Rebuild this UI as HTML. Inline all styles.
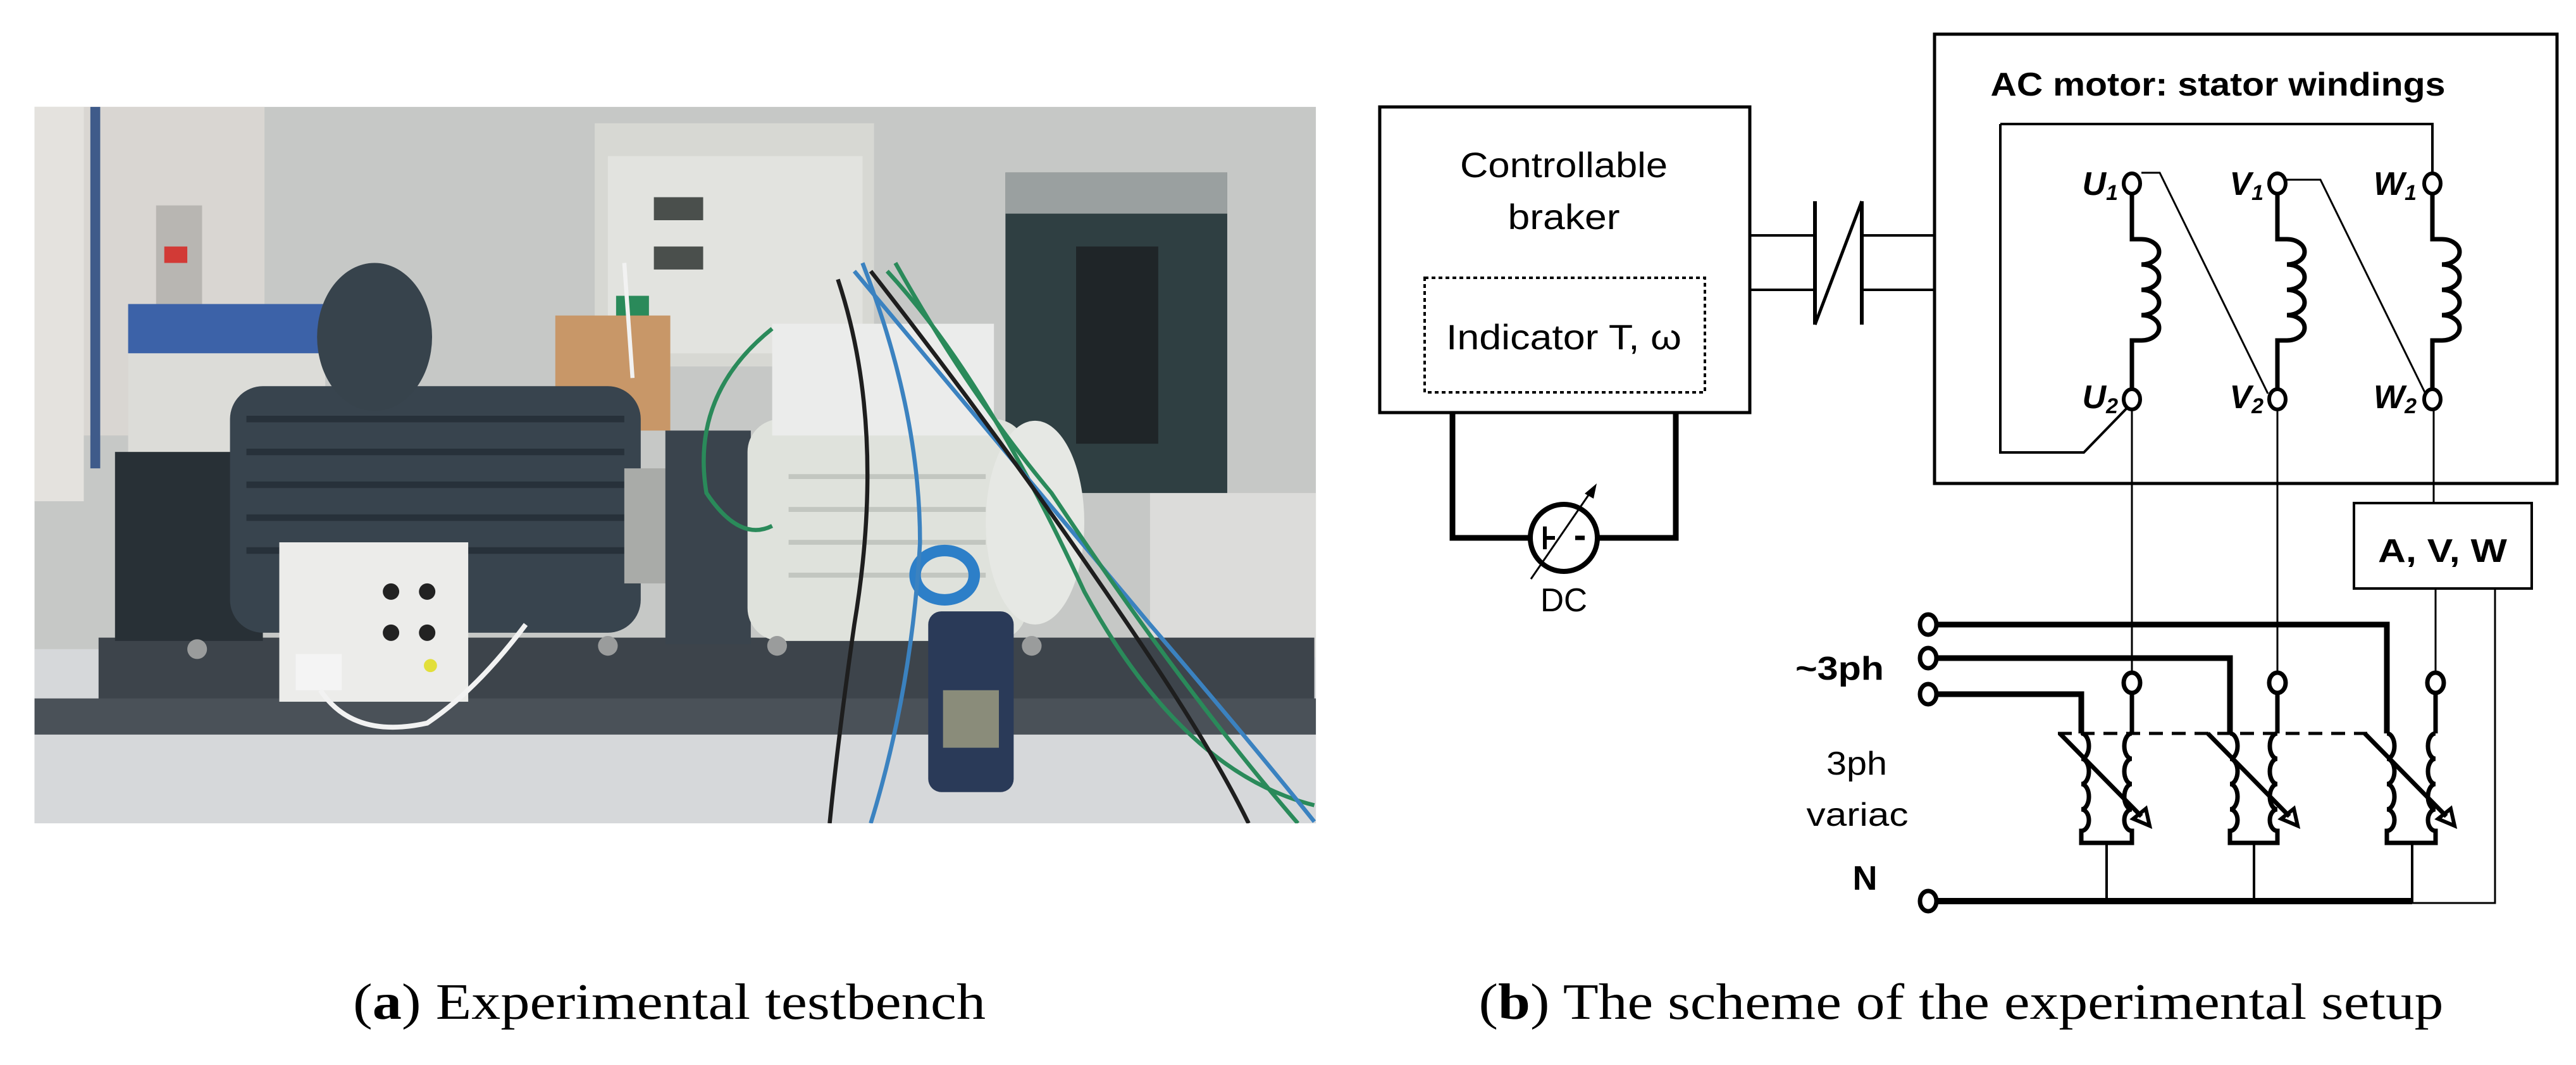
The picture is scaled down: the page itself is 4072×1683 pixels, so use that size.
<!DOCTYPE html>
<html><head><meta charset="utf-8"><style>
html,body{margin:0;padding:0;background:#fff;}
svg{display:block;}
</style></head><body>
<svg width="4072" height="1683" viewBox="0 0 4072 1683" xmlns="http://www.w3.org/2000/svg">
<rect width="4072" height="1683" fill="#fff"/>
<!-- PHOTO (display coords scaled) -->
<g transform="scale(2.597)">
 <clipPath id="pc"><rect x="21" y="65" width="780" height="436"/></clipPath>
 <g clip-path="url(#pc)">
  <rect x="21" y="65" width="780" height="436" fill="#c6c8c6"/>
  <rect x="21" y="65" width="140" height="200" fill="#d9d6d2"/>
  <rect x="21" y="65" width="30" height="240" fill="#e4e2de"/>
  <rect x="55" y="65" width="6" height="220" fill="#3f5b8a"/>
  <rect x="95" y="125" width="28" height="60" fill="#b8b6b2"/>
  <rect x="100" y="150" width="14" height="10" fill="#d23a36"/>
  <rect x="21" y="395" width="780" height="106" fill="#d6d8da"/>
  <rect x="700" y="300" width="101" height="100" fill="#dcdcda"/>
  <rect x="78" y="185" width="120" height="30" fill="#3c62a8"/>
  <rect x="78" y="215" width="120" height="80" fill="#dcdcd8"/>
  <rect x="362" y="75" width="170" height="148" fill="#d7d8d3"/>
  <rect x="370" y="95" width="155" height="120" fill="#e2e3df"/>
  <rect x="398" y="120" width="30" height="14" fill="#4a4f4c"/>
  <rect x="398" y="150" width="30" height="14" fill="#4a4f4c"/>
  <rect x="375" y="180" width="20" height="20" fill="#2a8a5a"/>
  <rect x="338" y="192" width="70" height="70" fill="#c89768"/>
  <rect x="612" y="105" width="135" height="195" fill="#2f3f42"/>
  <rect x="655" y="150" width="50" height="120" fill="#1f2528"/>
  <rect x="612" y="105" width="135" height="25" fill="#9aa0a0"/>
  <rect x="60" y="388" width="740" height="40" fill="#3d444b"/>
  <rect x="21" y="425" width="780" height="22" fill="#4a5158"/>
  <rect x="70" y="275" width="90" height="115" fill="#283036"/>
  <rect x="140" y="235" width="250" height="150" rx="20" fill="#38444e"/>
  <g stroke="#27313a" stroke-width="4">
   <line x1="150" y1="255" x2="380" y2="255"/><line x1="150" y1="275" x2="380" y2="275"/>
   <line x1="150" y1="295" x2="380" y2="295"/><line x1="150" y1="315" x2="380" y2="315"/>
   <line x1="150" y1="335" x2="380" y2="335"/>
  </g>
  <ellipse cx="228" cy="205" rx="35" ry="45" fill="#37434c"/>
  <rect x="380" y="285" width="30" height="70" fill="#a9aba8"/>
  <rect x="405" y="262" width="52" height="130" fill="#3a444d"/>
  <rect x="455" y="255" width="170" height="135" rx="20" fill="#dfe2dc"/>
  <ellipse cx="630" cy="318" rx="30" ry="62" fill="#e6e8e4"/>
  <g stroke="#c2c6c0" stroke-width="3">
   <line x1="480" y1="290" x2="600" y2="290"/><line x1="480" y1="310" x2="600" y2="310"/>
   <line x1="480" y1="330" x2="600" y2="330"/><line x1="480" y1="350" x2="600" y2="350"/>
  </g>
  <rect x="470" y="197" width="135" height="68" fill="#ebeceb"/>
  <rect x="170" y="330" width="115" height="97" fill="#ececea"/>
  <circle cx="238" cy="360" r="5" fill="#222"/><circle cx="260" cy="360" r="5" fill="#222"/>
  <circle cx="238" cy="385" r="5" fill="#222"/><circle cx="260" cy="385" r="5" fill="#222"/>
  <circle cx="262" cy="405" r="4" fill="#e2df3a"/>
  <rect x="180" y="398" width="28" height="22" fill="#f4f4f4"/>
  <path d="M195 420 Q215 450 260 440 Q290 420 320 380" stroke="#f2f2f2" stroke-width="3" fill="none"/>
  <ellipse cx="575" cy="350" rx="18" ry="15" fill="none" stroke="#2d7fc8" stroke-width="7"/>
  <rect x="565" y="372" width="52" height="110" rx="8" fill="#2a3a58"/>
  <rect x="574" y="420" width="34" height="35" fill="#8a8c7a"/>
  <g fill="none" stroke-width="2.5">
   <path d="M470 200 Q420 240 430 300 Q450 330 470 320" stroke="#2a8a5a"/>
   <path d="M540 165 Q600 230 660 360 Q720 470 800 490" stroke="#2a8a5a"/>
   <path d="M520 165 Q600 260 700 380 Q760 450 800 500" stroke="#3b82c0"/>
   <path d="M545 160 Q590 240 640 300 Q720 420 790 501" stroke="#2a8a5a"/>
   <path d="M510 170 Q540 260 520 380 Q510 450 505 501" stroke="#1e1e1e"/>
   <path d="M530 165 Q620 280 700 400 Q740 460 760 501" stroke="#1e1e1e"/>
   <path d="M525 160 Q560 250 560 330 Q555 420 530 501" stroke="#3b82c0"/>
   <path d="M380 160 L385 230" stroke="#f2f2f2"/>
  </g>
  <circle cx="120" cy="395" r="6" fill="#9a9c9c"/><circle cx="370" cy="393" r="6" fill="#9a9c9c"/>
  <circle cx="473" cy="393" r="6" fill="#9a9c9c"/><circle cx="628" cy="393" r="6" fill="#9a9c9c"/>
 </g>
</g>

<!-- SCHEME -->
<g fill="none" stroke="#000" stroke-linecap="butt">
 <rect x="2181" y="169" width="585" height="483" stroke-width="5"/>
 <rect x="2252" y="439" width="443" height="181" stroke-width="4" stroke-dasharray="6,5"/>
 <line x1="2766" y1="372" x2="2868" y2="372" stroke-width="4"/>
 <line x1="2766" y1="458" x2="2868" y2="458" stroke-width="4"/>
 <line x1="2945" y1="372" x2="3058" y2="372" stroke-width="4"/>
 <line x1="2945" y1="458" x2="3058" y2="458" stroke-width="4"/>
 <line x1="2869" y1="318" x2="2869" y2="513" stroke-width="6"/>
 <line x1="2943" y1="318" x2="2943" y2="513" stroke-width="6"/>
 <line x1="2869" y1="513" x2="2943" y2="318" stroke-width="5"/>
 <polyline points="2296,652 2296,850 2417,850" stroke-width="9"/>
 <polyline points="2649,652 2649,850 2527,850" stroke-width="9"/>
 <circle cx="2472" cy="850" r="53" stroke-width="8"/>
 <line x1="2420" y1="915" x2="2514" y2="778" stroke-width="3"/>
 <line x1="2440" y1="850" x2="2458" y2="850" stroke-width="6"/>
 <line x1="2442" y1="832" x2="2442" y2="868" stroke-width="6"/>
 <line x1="2490" y1="850" x2="2505" y2="850" stroke-width="7"/>
 <rect x="3058" y="54" width="984" height="710" stroke-width="5"/>
 <polyline points="3162,196 3845,196 3845,275" stroke-width="4"/>
 <polyline points="3162,196 3162,715 3294,715 3362,645" stroke-width="4"/>
 <polyline points="3385,273 3414,273 3585,622" stroke-width="3"/>
 <polyline points="3615,284 3668,284 3834,622" stroke-width="3"/>
 <g stroke-width="7">
  <path d="M3370 305 V378 H3385 a28 20 0 0 1 0 40 a28 20 0 0 1 0 40 a28 20 0 0 1 0 40 a28 20 0 0 1 0 40 H3370 V616"/>
  <path d="M3600 305 V378 H3615 a28 20 0 0 1 0 40 a28 20 0 0 1 0 40 a28 20 0 0 1 0 40 a28 20 0 0 1 0 40 H3600 V616"/>
  <path d="M3845 305 V378 H3860 a28 20 0 0 1 0 40 a28 20 0 0 1 0 40 a28 20 0 0 1 0 40 a28 20 0 0 1 0 40 H3845 V616"/>
 </g>
 <g stroke-width="6" fill="#fff">
  <ellipse cx="3370" cy="290" rx="13" ry="16"/><ellipse cx="3600" cy="290" rx="13" ry="16"/><ellipse cx="3845" cy="290" rx="13" ry="16"/>
  <ellipse cx="3370" cy="631" rx="13" ry="16"/><ellipse cx="3600" cy="631" rx="13" ry="16"/><ellipse cx="3845" cy="631" rx="13" ry="16"/>
 </g>
 <line x1="3370" y1="647" x2="3370" y2="1063" stroke-width="3"/>
 <line x1="3600" y1="647" x2="3600" y2="1063" stroke-width="3"/>
 <line x1="3847" y1="647" x2="3847" y2="795" stroke-width="3"/>
 <rect x="3721" y="795" width="281" height="135" stroke-width="4"/>
 <line x1="3850" y1="930" x2="3850" y2="1063" stroke-width="3"/>
 <polyline points="3944,930 3944,1427 3813,1427" stroke-width="3"/>
 <polyline points="3063,987 3773,987 3773,1159" stroke-width="9"/>
 <polyline points="3063,1040 3525,1040 3525,1159" stroke-width="9"/>
 <polyline points="3063,1097 3290,1097 3290,1159" stroke-width="9"/>
 <line x1="3063" y1="1424" x2="3813" y2="1424" stroke-width="10"/>
 <line x1="3253" y1="1159" x2="3742" y2="1159" stroke-width="5" stroke-dasharray="22,14"/>
 <g stroke-width="7">
  <line x1="3370" y1="1094" x2="3370" y2="1159"/>
  <line x1="3600" y1="1094" x2="3600" y2="1159"/>
  <line x1="3850" y1="1094" x2="3850" y2="1159"/>
  <path d="M3290 1159 a12 20 0 0 1 0 40 a12 20 0 0 1 0 40 a12 20 0 0 1 0 40 a12 17 0 0 1 0 34 V1332 H3370 V1313 a12 17 0 0 1 0 -34 a12 20 0 0 1 0 -40 a12 20 0 0 1 0 -40 a12 20 0 0 1 0 -40"/>
  <path d="M3525 1159 a12 20 0 0 1 0 40 a12 20 0 0 1 0 40 a12 20 0 0 1 0 40 a12 17 0 0 1 0 34 V1332 H3600 V1313 a12 17 0 0 1 0 -34 a12 20 0 0 1 0 -40 a12 20 0 0 1 0 -40 a12 20 0 0 1 0 -40"/>
  <path d="M3773 1159 a12 20 0 0 1 0 40 a12 20 0 0 1 0 40 a12 20 0 0 1 0 40 a12 17 0 0 1 0 34 V1332 H3850 V1313 a12 17 0 0 1 0 -34 a12 20 0 0 1 0 -40 a12 20 0 0 1 0 -40 a12 20 0 0 1 0 -40"/>
  <line x1="3256" y1="1159" x2="3385" y2="1290"/>
  <line x1="3490" y1="1159" x2="3619" y2="1290"/>
  <line x1="3738" y1="1159" x2="3867" y2="1290"/>
  <path d="M3392 1278 L3398 1305 L3372 1294 Z" stroke-width="6"/>
  <path d="M3626 1278 L3632 1305 L3606 1294 Z" stroke-width="6"/>
  <path d="M3874 1278 L3880 1305 L3854 1294 Z" stroke-width="6"/>
 </g>
 <g stroke-width="4">
  <line x1="3330" y1="1332" x2="3330" y2="1426"/>
  <line x1="3563" y1="1332" x2="3563" y2="1426"/>
  <line x1="3813" y1="1332" x2="3813" y2="1426"/>
 </g>
 <g stroke-width="7" fill="#fff">
  <ellipse cx="3370" cy="1079" rx="13" ry="16"/><ellipse cx="3600" cy="1079" rx="13" ry="16"/><ellipse cx="3850" cy="1079" rx="13" ry="16"/>
  <ellipse cx="3048" cy="987" rx="13" ry="16"/><ellipse cx="3048" cy="1040" rx="13" ry="16"/><ellipse cx="3048" cy="1097" rx="13" ry="16"/>
  <ellipse cx="3048" cy="1424" rx="13" ry="16"/>
 </g>
</g>
<polygon points="2524,764 2505,780 2519,788" fill="#000"/>

<g font-family="'Liberation Sans', sans-serif" fill="#000">
 <text x="2472" y="280" font-size="56" text-anchor="middle" textLength="328" lengthAdjust="spacingAndGlyphs">Controllable</text>
 <text x="2472" y="362" font-size="56" text-anchor="middle" textLength="177" lengthAdjust="spacingAndGlyphs">braker</text>
 <text x="2472" y="552" font-size="56" text-anchor="middle" textLength="372" lengthAdjust="spacingAndGlyphs">Indicator T, ω</text>
 <text x="3506" y="151" font-size="52" font-weight="bold" text-anchor="middle" textLength="719" lengthAdjust="spacingAndGlyphs">AC motor: stator windings</text>
 <text x="2472" y="966" font-size="52" text-anchor="middle" textLength="74" lengthAdjust="spacingAndGlyphs">DC</text>
 <text x="3861" y="888" font-size="52" font-weight="bold" text-anchor="middle" textLength="204" lengthAdjust="spacingAndGlyphs">A, V, W</text>
 <text x="2838" y="1074" font-size="52" font-weight="bold" textLength="140" lengthAdjust="spacingAndGlyphs">~3ph</text>
 <text x="2935" y="1224" font-size="52" text-anchor="middle" textLength="96" lengthAdjust="spacingAndGlyphs">3ph</text>
 <text x="2936" y="1305" font-size="52" text-anchor="middle" textLength="161" lengthAdjust="spacingAndGlyphs">variac</text>
 <text x="2948" y="1406" font-size="54" font-weight="bold" text-anchor="middle">N</text>
 <g font-size="52" font-weight="bold" font-style="italic" text-anchor="end">
  <text x="3348" y="308">U<tspan font-size="34" dy="8">1</tspan></text>
  <text x="3578" y="308">V<tspan font-size="34" dy="8">1</tspan></text>
  <text x="3820" y="308">W<tspan font-size="34" dy="8">1</tspan></text>
  <text x="3348" y="645">U<tspan font-size="34" dy="8">2</tspan></text>
  <text x="3578" y="645">V<tspan font-size="34" dy="8">2</tspan></text>
  <text x="3820" y="645">W<tspan font-size="34" dy="8">2</tspan></text>
 </g>
</g>
<g font-family="'Liberation Serif', serif" font-size="80" fill="#000" text-anchor="middle">
 <text x="1058" y="1610" textLength="1000" lengthAdjust="spacingAndGlyphs">(<tspan font-weight="bold">a</tspan>) Experimental testbench</text>
 <text x="3100" y="1610" textLength="1525" lengthAdjust="spacingAndGlyphs">(<tspan font-weight="bold">b</tspan>) The scheme of the experimental setup</text>
</g>
</svg>
</body></html>
